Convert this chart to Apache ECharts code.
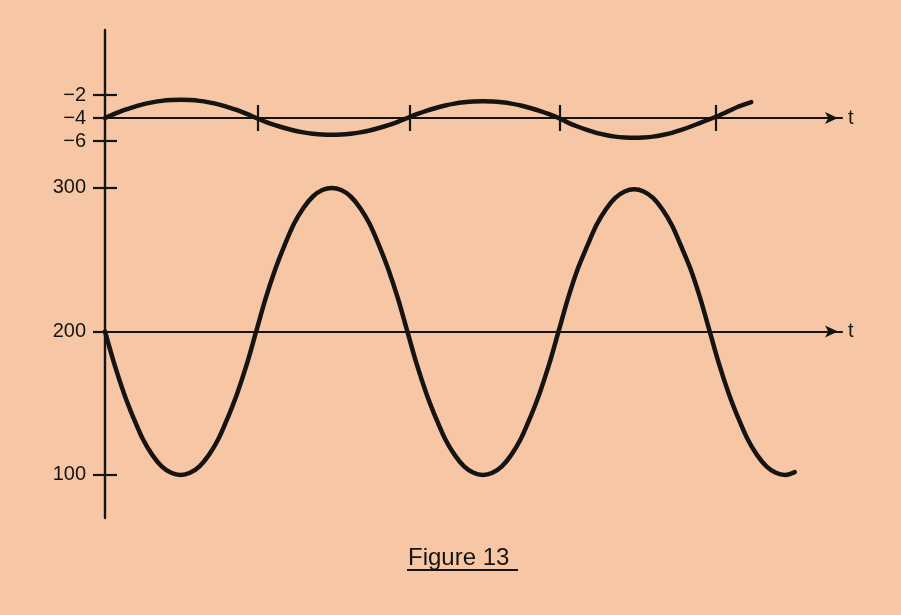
<!DOCTYPE html>
<html>
<head>
<meta charset="utf-8">
<title>Figure 13</title>
<script src="https://cdn.jsdelivr.net/npm/echarts@6/dist/echarts.min.js"></script>
<style>
  html, body { margin: 0; padding: 0; background: #f7c7a5; }
  #chart { width: 901px; height: 615px; }
</style>
</head>
<body>
<div id="chart"></div>
<script>
// ---- data (t in quarter periods) ----
var topT = [0, 0.125, 0.25, 0.375, 0.5, 0.625, 0.75, 0.875, 1, 1.125, 1.25, 1.375, 1.5, 1.625, 1.75, 1.875,
            2, 2.125, 2.25, 2.375, 2.5, 2.625, 2.75, 2.875, 3, 3.125, 3.25, 3.375, 3.5, 3.625, 3.75, 3.875,
            4, 4.125, 4.25, 4.375, 4.5, 4.625, 4.75, 4.875, 5, 5.125, 5.25, 5.375, 5.5, 5.625, 5.75, 5.875,
            6, 6.125, 6.25, 6.375, 6.5, 6.625, 6.75, 6.875, 7, 7.125, 7.25, 7.375, 7.5, 7.625, 7.75, 7.875,
            8, 8.125, 8.25, 8.375, 8.5, 8.55];
var topValues = [-4.0, -3.64, -3.32, -3.05, -2.81, -2.64, -2.51, -2.44, -2.42, -2.44, -2.51, -2.64, -2.81, -3.05, -3.32, -3.64,
                 -4.0, -4.33, -4.62, -4.87, -5.09, -5.25, -5.36, -5.43, -5.45, -5.43, -5.36, -5.25, -5.09, -4.87, -4.62, -4.33,
                 -4.0, -3.67, -3.38, -3.13, -2.91, -2.75, -2.64, -2.57, -2.55, -2.57, -2.64, -2.75, -2.91, -3.13, -3.38, -3.67,
                 -4.0, -4.4, -4.74, -5.03, -5.29, -5.48, -5.62, -5.69, -5.72, -5.69, -5.62, -5.48, -5.29, -5.03, -4.74, -4.42,
                 -4.1, -3.78, -3.4, -3.02, -2.72, -2.62];
var bottomT = [0, 0.125, 0.25, 0.375, 0.5, 0.625, 0.75, 0.875, 1, 1.125, 1.25, 1.375, 1.5, 1.625, 1.75, 1.875,
               2, 2.125, 2.25, 2.375, 2.5, 2.625, 2.75, 2.875, 3, 3.125, 3.25, 3.375, 3.5, 3.625, 3.75, 3.875,
               4, 4.125, 4.25, 4.375, 4.5, 4.625, 4.75, 4.875, 5, 5.125, 5.25, 5.375, 5.5, 5.625, 5.75, 5.875,
               6, 6.125, 6.25, 6.375, 6.5, 6.625, 6.75, 6.875, 7, 7.125, 7.25, 7.375, 7.5, 7.625, 7.75, 7.875,
               8, 8.125, 8.25, 8.375, 8.5, 8.625, 8.75, 8.875, 9, 9.125];
var bottomValues = [200, 177, 157, 140, 125, 114, 106, 101.5, 100, 101.5, 106, 114, 125, 140, 157, 177,
                    200, 223, 243, 260, 275, 286, 294, 298.5, 300, 298.5, 294, 286, 275, 260, 243, 223,
                    200, 177, 157, 140, 125, 114, 106, 101.5, 100, 101.5, 106, 114, 125, 140, 157, 177,
                    200, 223, 243, 259, 274, 285, 293, 297.5, 299, 297.5, 293, 285, 274, 259, 243, 223,
                    200, 177, 157, 140, 125, 114, 106, 101.5, 100, 102];
var topTickT = [2.02, 4.03, 6.02, 8.08];       // marks on the upper t axis
var topTickLabels = [-2, -4, -6];
var bottomTickLabels = [100, 200, 300];

var INK = '#161412';
var FONT = '"Liberation Sans", Arial, sans-serif';

function pairs(xs, ys) { return xs.map(function (x, i) { return [x, ys[i]]; }); }

var chart = echarts.init(document.getElementById('chart'), null, { renderer: 'canvas' });

var arrowLine = {
  show: true,
  symbol: ['none', 'arrow'],
  symbolSize: [9, 13],
  symbolOffset: [0, -4],
  lineStyle: { color: INK, width: 2.2 }
};

chart.setOption({
  backgroundColor: '#f7c7a5',
  animation: false,
  grid: [
    { left: 105, width: 737, top: 72, height: 92 },
    { left: 105, width: 737, top: 30, height: 488 }
  ],
  xAxis: [
    { // upper t axis, sits at -4
      gridIndex: 0, type: 'value', min: 0, max: 9.75, position: 'bottom', offset: -46,
      axisLine: arrowLine,
      axisTick: { show: true, customValues: topTickT, length: 13, inside: false, lineStyle: { color: INK, width: 2.2 } },
      axisLabel: { show: false }, splitLine: { show: false },
      name: 't', nameLocation: 'end', nameGap: 6,
      nameTextStyle: { color: INK, fontSize: 20, fontFamily: FONT, verticalAlign: 'middle' }
    },
    { // upward halves of the upper t-axis marks
      gridIndex: 0, type: 'value', min: 0, max: 9.75, position: 'bottom', offset: -46,
      axisLine: { show: false },
      axisTick: { show: true, customValues: topTickT, length: 13, inside: true, lineStyle: { color: INK, width: 2.2 } },
      axisLabel: { show: false }, splitLine: { show: false }
    },
    { // lower t axis, sits at 200
      gridIndex: 1, type: 'value', min: 0, max: 9.75, position: 'bottom', offset: -186.6,
      axisLine: arrowLine,
      axisTick: { show: false }, axisLabel: { show: false }, splitLine: { show: false },
      name: 't', nameLocation: 'end', nameGap: 6,
      nameTextStyle: { color: INK, fontSize: 20, fontFamily: FONT, verticalAlign: 'middle' }
    }
  ],
  yAxis: [
    {
      gridIndex: 0, type: 'value', min: -8, max: 0, position: 'left',
      axisLine: { show: false },
      axisTick: { show: true, customValues: topTickLabels, length: 12, lineStyle: { color: INK, width: 2.2 } },
      axisLabel: {
        show: true, customValues: topTickLabels, margin: 19, color: INK, fontSize: 20, fontFamily: FONT,
        formatter: function (v) { return v < 0 ? '\u2212' + Math.abs(v) : String(v); }
      },
      splitLine: { show: false }
    },
    {
      gridIndex: 0, type: 'value', min: -8, max: 0, position: 'left',
      axisLine: { show: false },
      axisTick: { show: true, customValues: [-2, -6], length: 12, inside: true, lineStyle: { color: INK, width: 2.2 } },
      axisLabel: { show: false }, splitLine: { show: false }
    },
    {
      gridIndex: 1, type: 'value', min: 70, max: 410, position: 'left',
      axisLine: { show: true, lineStyle: { color: INK, width: 2.4 } },
      axisTick: { show: true, customValues: bottomTickLabels, length: 12, lineStyle: { color: INK, width: 2.2 } },
      axisLabel: { show: true, customValues: bottomTickLabels, margin: 19, color: INK, fontSize: 20, fontFamily: FONT },
      splitLine: { show: false }
    },
    {
      gridIndex: 1, type: 'value', min: 70, max: 410, position: 'left',
      axisLine: { show: false },
      axisTick: { show: true, customValues: [100, 300], length: 12, inside: true, lineStyle: { color: INK, width: 2.2 } },
      axisLabel: { show: false }, splitLine: { show: false }
    }
  ],
  series: [
    {
      type: 'line', xAxisIndex: 0, yAxisIndex: 0, data: pairs(topT, topValues),
      smooth: 0.3, showSymbol: false, clip: false,
      lineStyle: { color: INK, width: 4.5, cap: 'round' }
    },
    {
      type: 'line', xAxisIndex: 2, yAxisIndex: 2, data: pairs(bottomT, bottomValues),
      smooth: 0.3, showSymbol: false, clip: false,
      lineStyle: { color: INK, width: 4.5, cap: 'round' }
    }
  ],
  graphic: [
    {
      type: 'text', left: 408, top: 546,
      style: { text: 'Figure 13', fill: INK, font: '24px "Liberation Sans", Arial, sans-serif' }
    },
    {
      type: 'rect', left: 407, top: 569, shape: { width: 111, height: 2 },
      style: { fill: INK }
    }
  ]
});
</script>
</body>
</html>
